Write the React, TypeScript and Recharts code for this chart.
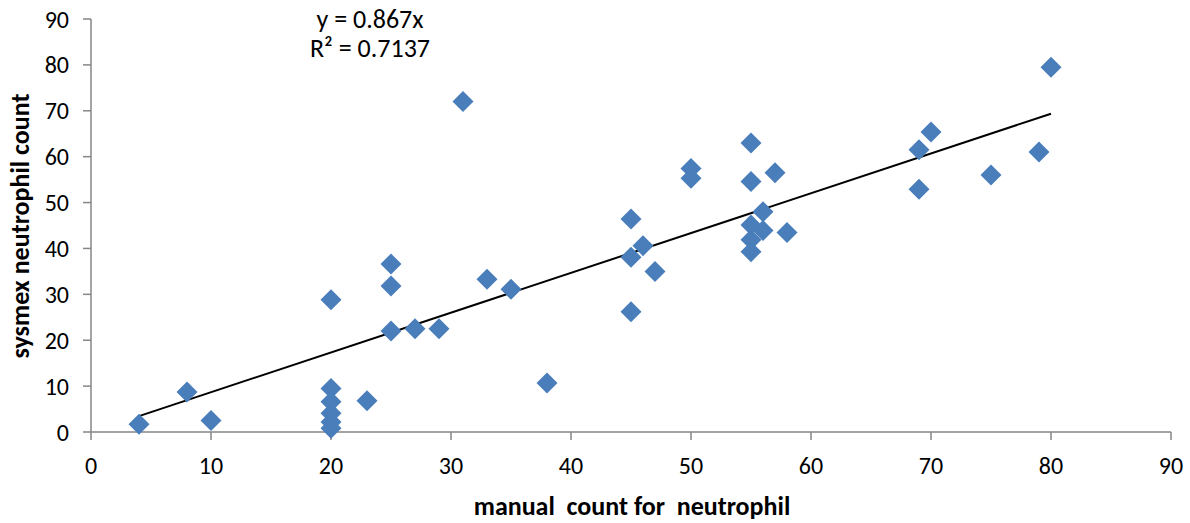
import { ScatterChart, Scatter, XAxis, YAxis, ReferenceLine } from 'recharts'

// manual count (x) vs sysmex count (y)
const manual = [
  4, 8, 10, 20, 20, 20, 20, 20, 20, 23, 25, 25, 25, 27, 29, 31, 33, 35, 38,
  45, 45, 45, 46, 47, 50, 50, 55, 55, 55, 55, 55, 56, 56, 57, 58, 69, 69, 70, 75, 79, 80,
]
const sysmex = [
  1.7, 8.7, 2.5, 0.8, 2.2, 4.1, 6.6, 9.5, 28.8, 6.8, 22.0, 31.8, 36.6, 22.5, 22.5, 72.0, 33.3, 31.1, 10.7,
  46.4, 38.1, 26.2, 40.6, 35.0, 57.4, 55.3, 63.0, 54.6, 45.1, 41.9, 39.3, 48.0, 43.9, 56.5, 43.5, 61.5, 52.9, 65.4, 56.0, 61.0, 79.5,
]
const ticks = [0, 10, 20, 30, 40, 50, 60, 70, 80, 90]
const slope = 0.867
const fitRange = [4, 80]

const points = manual.map((x, i) => ({ x, y: sysmex[i] }))

const FONT = 'Carlito, Lato, "Open Sans", sans-serif'
const BLUE = '#4a7ebb'
const AXIS = '#868686'

const Diamond = (props: any) => {
  const { cx, cy } = props
  const r = 10.5
  return (
    <polygon
      points={`${cx},${cy - r} ${cx + r},${cy} ${cx},${cy + r} ${cx - r},${cy}`}
      fill={BLUE}
    />
  )
}

export default function App() {
  return (
    <div style={{ position: 'absolute', left: 0, top: 0, width: 1190, height: 523, background: '#fff', fontFamily: FONT }}>
      <ScatterChart width={1190} height={523} margin={{ top: 19, right: 19, bottom: 31, left: 31 }}>
        <XAxis
          type="number"
          dataKey="x"
          domain={[0, 90]}
          ticks={ticks}
          axisLine={{ stroke: AXIS, strokeWidth: 1.5 }}
          tickLine={{ stroke: AXIS, strokeWidth: 1.5 }}
          tickSize={8}
          tick={{ fill: '#000', fontSize: 24, fontFamily: FONT }}
          tickMargin={17}
          height={60}
        />
        <YAxis
          type="number"
          dataKey="y"
          domain={[0, 90]}
          ticks={ticks}
          axisLine={{ stroke: AXIS, strokeWidth: 1.5 }}
          tickLine={{ stroke: AXIS, strokeWidth: 1.5 }}
          tickSize={8}
          tick={{ fill: '#000', fontSize: 24, fontFamily: FONT }}
          tickMargin={14}
          width={60}
        />
        <ReferenceLine
          segment={[
            { x: fitRange[0], y: slope * fitRange[0] },
            { x: fitRange[1], y: slope * fitRange[1] },
          ]}
          stroke="#000"
          strokeWidth={2}
        />
        <Scatter data={points} shape={Diamond} isAnimationActive={false} />
      </ScatterChart>
      <div style={{ position: 'absolute', left: 290, top: 5, width: 160, textAlign: 'center', fontSize: 26, lineHeight: '29px', color: '#000' }}>
        y = 0.867x
        <br />
        R² = 0.7137
      </div>
      <div
        style={{
          position: 'absolute',
          left: 20,
          top: 226,
          transform: 'translate(-50%, -50%) rotate(-90deg)',
          whiteSpace: 'pre',
          fontWeight: 'bold',
          fontSize: 26,
          color: '#000',
        }}
      >
        sysmex neutrophil count
      </div>
      <div
        style={{
          position: 'absolute',
          left: 632,
          top: 506,
          transform: 'translate(-50%, -50%)',
          whiteSpace: 'pre',
          fontWeight: 'bold',
          fontSize: 26,
          color: '#000',
        }}
      >
        manual  count for  neutrophil
      </div>
    </div>
  )
}
